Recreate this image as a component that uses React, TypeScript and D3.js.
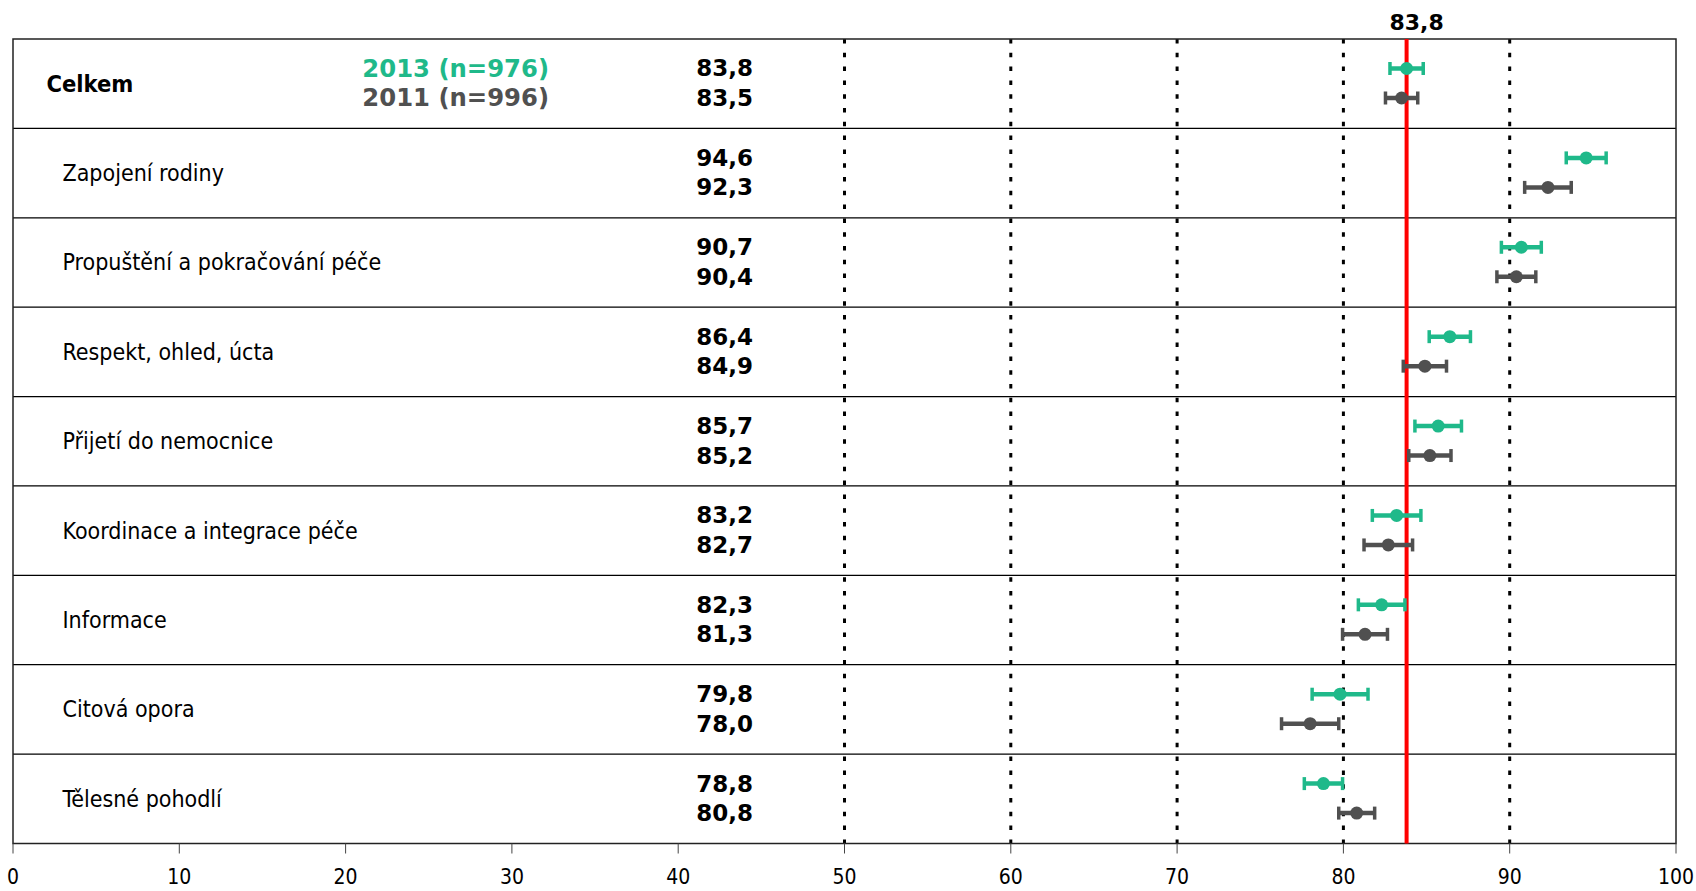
import React from "react";
import * as d3 from "d3";

const categories = [
  "Celkem",
  "Zapojení rodiny",
  "Propuštění a pokračování péče",
  "Respekt, ohled, úcta",
  "Přijetí do nemocnice",
  "Koordinace a integrace péče",
  "Informace",
  "Citová opora",
  "Tělesné pohodlí",
];
const values2013 = [83.8, 94.6, 90.7, 86.4, 85.7, 83.2, 82.3, 79.8, 78.8];
const values2011 = [83.5, 92.3, 90.4, 84.9, 85.2, 82.7, 81.3, 78.0, 80.8];
const err2013 = [1.0, 1.2, 1.2, 1.24, 1.4, 1.46, 1.4, 1.68, 1.15];
const err2011 = [0.97, 1.4, 1.17, 1.3, 1.27, 1.46, 1.35, 1.72, 1.08];
const xTicks = [0, 10, 20, 30, 40, 50, 60, 70, 80, 90, 100];
const gridValues = [50, 60, 70, 80, 90];
const referenceValue = 83.8;
const legend2013 = "2013 (n=976)";
const legend2011 = "2011 (n=996)";

const GREEN = "#1fb98a";
const GRAY = "#505050";
const FONT = "Tahoma, 'DejaVu Sans Condensed', 'DejaVu Sans', sans-serif";
const FONT_WIDE = "Verdana, 'DejaVu Sans', sans-serif";

const fmt = (v: number) => d3.format(".1f")(v).replace(".", ",");

export default function App() {
  const W = 1696;
  const H = 891;
  const left = 13;
  const right = 1676;
  const top = 39;
  const bottom = 843.5;

  const x = d3.scaleLinear().domain([0, 100]).range([left, right]);
  const y = d3
    .scaleBand<number>()
    .domain(categories.map((_, i) => i))
    .range([top, bottom])
    .padding(0);
  const bw = y.bandwidth();
  const off2013 = bw * 0.33;
  const off2011 = bw * 0.66;

  const capH = 13;

  const errBar = (v: number, e: number, cy: number, color: string, key: string) => (
    <g key={key}>
      <line x1={x(v - e)} x2={x(v + e)} y1={cy} y2={cy} stroke={color} strokeWidth={4.5} />
      <line x1={x(v - e)} x2={x(v - e)} y1={cy - capH / 2} y2={cy + capH / 2} stroke={color} strokeWidth={3.5} />
      <line x1={x(v + e)} x2={x(v + e)} y1={cy - capH / 2} y2={cy + capH / 2} stroke={color} strokeWidth={3.5} />
      <circle cx={x(v)} cy={cy} r={6.5} fill={color} />
    </g>
  );

  return (
    <svg
      width={W}
      height={H}
      style={{ position: "absolute", left: 0, top: 0, background: "#fff" }}
      fontFamily={FONT}
    >
      {gridValues.map((g) => (
        <line
          key={"g" + g}
          x1={x(g)}
          x2={x(g)}
          y1={top}
          y2={bottom}
          stroke="#000"
          strokeWidth={3}
          strokeDasharray="4.5 9.3"
        />
      ))}
      {categories.slice(1).map((_, i) => (
        <line
          key={"s" + i}
          x1={left}
          x2={right}
          y1={y(i + 1) as number}
          y2={y(i + 1) as number}
          stroke="#000"
          strokeWidth={1.2}
        />
      ))}
      <rect x={left} y={top} width={right - left} height={bottom - top} fill="none" stroke="#222" strokeWidth={1.5} />
      {xTicks.map((t) => (
        <g key={"t" + t}>
          <line x1={x(t)} x2={x(t)} y1={bottom} y2={bottom + 10} stroke="#444" strokeWidth={1} />
          <text x={x(t)} y={877} textAnchor="middle" dominantBaseline="central" fontSize={21} fill="#000">
            {t}
          </text>
        </g>
      ))}
      {categories.map((c, i) => (
        <text
          key={"c" + i}
          x={i === 0 ? 46.5 : 62.5}
          y={(y(i) as number) + bw / 2}
          dominantBaseline="central"
          fontSize={i === 0 ? 23.5 : 23}
          fontWeight={i === 0 ? "bold" : "normal"}
          fill="#000"
        >
          {c}
        </text>
      ))}
      <text x={549} y={(y(0) as number) + off2013} textAnchor="end" dominantBaseline="central" fontFamily={FONT_WIDE} fontSize={24.3} fontWeight="bold" fill={GREEN}>
        {legend2013}
      </text>
      <text x={549} y={(y(0) as number) + off2011} textAnchor="end" dominantBaseline="central" fontFamily={FONT_WIDE} fontSize={24.3} fontWeight="bold" fill={GRAY}>
        {legend2011}
      </text>
      {categories.map((_, i) => (
        <g key={"v" + i}>
          <text x={753} y={(y(i) as number) + off2013} textAnchor="end" dominantBaseline="central" fontFamily={FONT_WIDE} fontSize={23} fontWeight="bold" fill="#000">
            {fmt(values2013[i])}
          </text>
          <text x={753} y={(y(i) as number) + off2011} textAnchor="end" dominantBaseline="central" fontFamily={FONT_WIDE} fontSize={23} fontWeight="bold" fill="#000">
            {fmt(values2011[i])}
          </text>
        </g>
      ))}
      <line x1={x(referenceValue)} x2={x(referenceValue)} y1={top} y2={bottom} stroke="#ff0000" strokeWidth={4} />
      <text x={x(referenceValue) + 10} y={22} textAnchor="middle" dominantBaseline="central" fontFamily={FONT_WIDE} fontSize={22} fontWeight="bold" fill="#000">
        {fmt(referenceValue)}
      </text>
      {categories.map((_, i) => (
        <g key={"e" + i}>
          {errBar(values2013[i], err2013[i], (y(i) as number) + off2013, GREEN, "a" + i)}
          {errBar(values2011[i], err2011[i], (y(i) as number) + off2011, GRAY, "b" + i)}
        </g>
      ))}
    </svg>
  );
}
